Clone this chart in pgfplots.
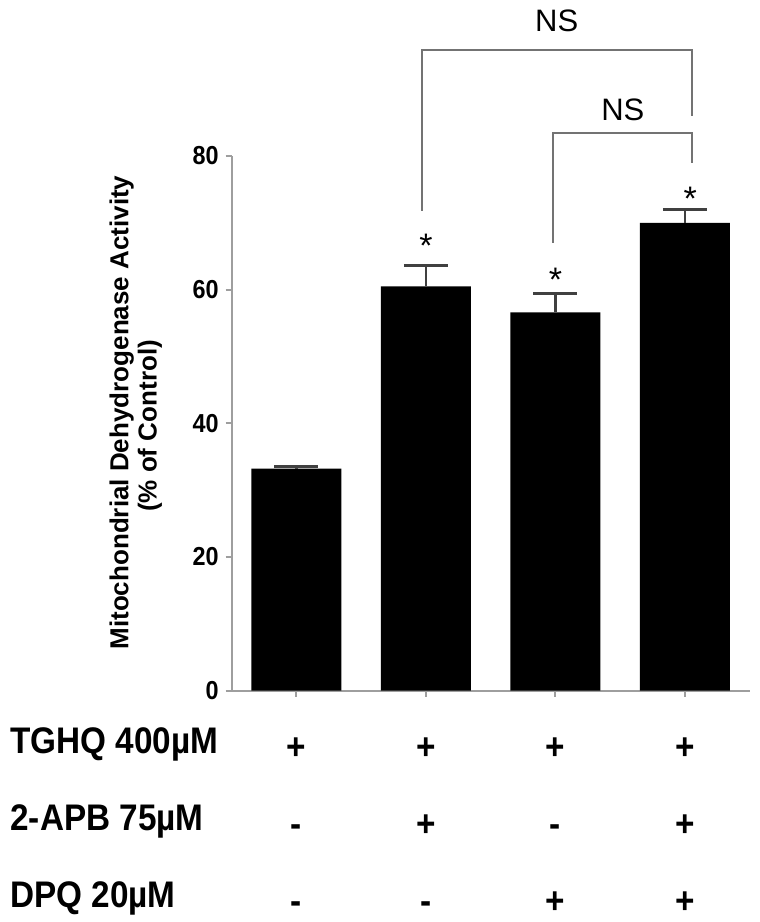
\documentclass[border=0pt]{standalone}
\usepackage{pgfplots}
\pgfplotsset{compat=1.18}
\usepackage{fontspec}
\setmainfont{Liberation Sans}
\newfontfamily\condfont{Liberation Sans}[FakeStretch=0.9]
\definecolor{axgray}{gray}{0.62}
\definecolor{brgray}{gray}{0.45}

\pgfplotstableread{
x y e
0 33.2 0.4
1 60.5 3.1
2 56.6 2.8
3 70.0 2.0
}\datatable

\begin{document}
\begin{tikzpicture}
\path[use as bounding box] (-115.85pt,-115.75pt) rectangle (264.15pt,345.25pt);
\begin{axis}[
  at={(0pt,0pt)}, anchor=south west,
  scale only axis, width=259pt, height=267.25pt,
  xmin=-0.5, xmax=3.5, ymin=0, ymax=80,
  axis x line*=bottom, axis y line*=left,
  axis line style={axgray, line width=1pt, -},
  ytick={0,20,40,60,80},
  xtick={0,1,2,3},
  xticklabels={{+\\-\\-},{+\\+\\-},{+\\-\\+},{+\\+\\+}},
  tick align=outside, major tick length=3pt,
  tick style={axgray, line width=1pt},
  /pgf/number format/assume math mode=true,
  y tick label style={font=\condfont\bfseries\fontsize{13}{15}\selectfont},
  x tick label style={align=center, anchor=base, inner sep=0pt, yshift=-108.5pt,
    font=\condfont\bfseries\fontsize{18.5}{38.5}\selectfont},
  clip=false,
]
\addplot[ybar, bar width=45pt, bar shift=0pt, fill=black, draw=none,
  error bars/.cd, y dir=plus, y explicit,
  error bar style={black!75, line width=1.2pt},
  error mark options={rotate=90, black!75, line width=1.5pt, mark size=11pt}]
  table[x=x, y=y, y error=e] {\datatable};

\draw[brgray, line width=1pt] (axis cs:0.971,71.8) -- (axis cs:0.971,95.8) -- (axis cs:3.053,95.8) -- (axis cs:3.053,86.0);
\draw[brgray, line width=1pt] (axis cs:1.979,67.0) -- (axis cs:1.979,83.5) -- (axis cs:3.053,83.5) -- (axis cs:3.053,79.0);
\node[anchor=base, font=\fontsize{15.5}{18}\selectfont] at (axis cs:2.01,98.6) {NS};
\node[anchor=base, font=\fontsize{15.5}{18}\selectfont] at (axis cs:2.52,85.3) {NS};
\node[anchor=base, inner sep=0pt, font=\fontsize{17}{20}\selectfont] at (axis cs:1,64.8) {*};
\node[anchor=base, inner sep=0pt, font=\fontsize{17}{20}\selectfont] at (axis cs:2,59.7) {*};
\node[anchor=base, inner sep=0pt, font=\fontsize{17}{20}\selectfont] at (axis cs:3.04,71.8) {*};
\end{axis}
\node[rotate=90, font=\bfseries\fontsize{13}{15}\selectfont] at (-55.05pt,139pt) {Mitochondrial Dehydrogenase Activity};
\node[rotate=90, font=\bfseries\fontsize{13}{15}\selectfont] at (-40.85pt,132.25pt) {(\% of Control)};
\node[anchor=base west, inner sep=0pt, font=\condfont\bfseries\fontsize{18.5}{22}\selectfont] at (-110.85pt,-31.5pt) {TGHQ 400µM};
\node[anchor=base west, inner sep=0pt, font=\condfont\bfseries\fontsize{18.5}{22}\selectfont] at (-110.85pt,-70pt) {2-APB 75µM};
\node[anchor=base west, inner sep=0pt, font=\condfont\bfseries\fontsize{18.5}{22}\selectfont] at (-110.85pt,-108.5pt) {DPQ 20µM};
\end{tikzpicture}
\end{document}
